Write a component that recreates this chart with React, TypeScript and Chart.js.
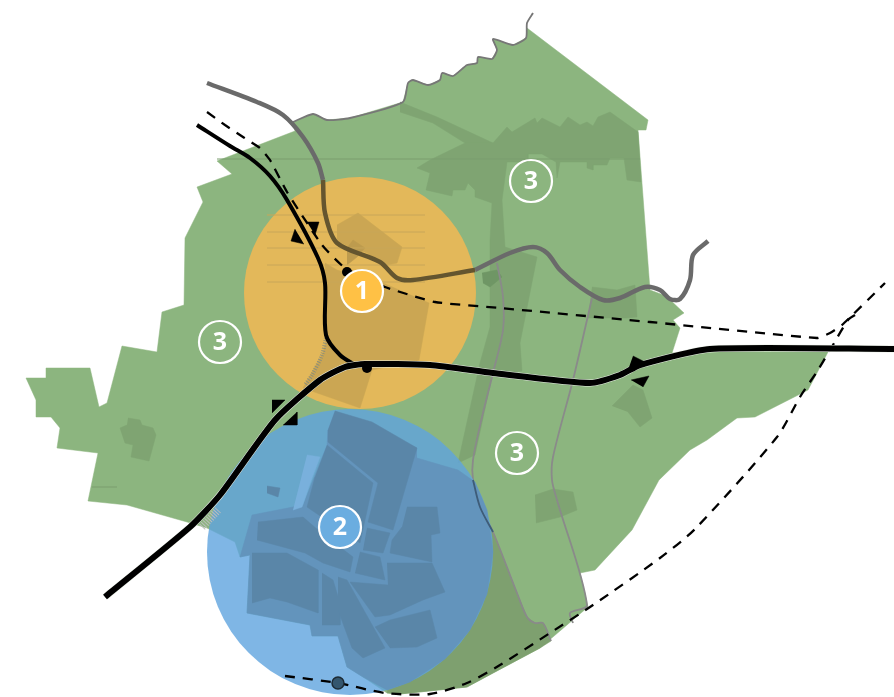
import React, { useEffect, useRef } from "react";
import { Chart, registerables } from "chart.js";

Chart.register(...registerables);

type P = [number, number];

const GREEN = "#8cb57f";
const GREEN_DARK = "#7fa472";
const ORANGE = "#e3b85a";
const ORANGE_DARK = "#cba653";
const BLUE_ALPHA = "rgba(95,164,223,0.8)";
const BLOCK = "#5a86a8";

const landOutline: P[] = [[527,28],[648,120],[646,130],[638,130],[650,290],[666,296],[684,313],[673,320],[680,328],[672,353],[708,350],[828,352],[808,390],[755,417],[737,418],[707,440],[690,450],[659,480],[632,530],[595,570],[580,573],[588,607],[540,648],[493,673],[467,687],[400,694],[387,693],[363,677],[347,667],[338,636],[312,636],[310,625],[247,613],[250,555],[240,557],[235,542],[207,528],[187,522],[127,505],[88,501],[98,453],[57,448],[60,428],[51,417],[36,417],[36,400],[26,378],[46,378],[46,368],[90,368],[99,407],[107,403],[122,346],[157,352],[162,312],[184,305],[185,238],[203,202],[197,187],[232,174],[217,161],[295,131],[293,122],[313,114],[327,120],[350,118],[403,102],[408,83],[413,80],[428,85],[440,80],[442,73],[453,76],[467,65],[477,63],[478,57],[492,59],[497,50],[493,39],[513,45],[526,38]];
const northBelt: P[] = [[493,143],[507,127],[512,132],[535,118],[537,123],[542,118],[560,127],[568,117],[580,125],[587,122],[593,126],[598,117],[610,112],[638,132],[641,182],[627,180],[624,158],[610,158],[607,165],[593,165],[593,170],[587,168],[587,162],[560,162],[557,178],[556,162],[542,154],[528,154],[528,162],[507,162],[502,200],[505,247],[537,257],[520,343],[522,371],[492,377],[475,455],[458,463],[480,363],[490,327],[490,285],[490,240],[492,203],[475,197],[475,190],[468,183],[465,190],[453,190],[452,196],[426,190],[430,173],[417,168],[430,160],[465,143]];
const northStrip: P[] = [[400,102],[437,117],[493,143],[465,143],[433,123],[400,112]];
const eastPatch: P[] = [[592,287],[617,290],[635,285],[637,317],[627,318],[588,318]];
const starPatch: P[] = [[482,273],[497,270],[502,277],[490,287],[483,283]];
const westPatch: P[] = [[128,418],[140,420],[142,425],[153,428],[156,435],[149,461],[131,457],[133,445],[125,443],[120,428],[127,425]];
const eastPond: P[] = [[612,406],[633,385],[643,390],[652,418],[640,427],[628,412]];
const southPatch: P[] = [[535,495],[553,489],[573,492],[577,510],[560,517],[536,523]];
const southDark: P[] = [[480,507],[493,532],[517,593],[527,617],[535,623],[543,623],[551,641],[540,648],[493,673],[467,687],[400,694],[387,693],[400,640],[440,560]];

const cityHalo: P[] = [[417,458],[458,470],[475,482],[487,510],[493,552],[487,594],[470,630],[445,659],[410,682],[387,690],[363,677],[347,667],[338,636],[312,636],[310,625],[247,613],[250,555],[240,557],[252,515],[303,505],[327,445],[328,430],[335,411],[417,448]];
const parkLight: P[] = [[307,455],[320,457],[312,478],[302,507],[293,510]];
const blockA: P[] = [[335,411],[372,422],[417,448],[393,530],[368,522],[378,483],[328,442],[328,430]];
const blockB: P[] = [[327,445],[373,483],[365,520],[360,543],[307,507],[315,477]];
const blockC: P[] = [[258,522],[303,517],[318,530],[353,557],[350,572],[323,563],[305,553],[257,540]];
const blockD: P[] = [[252,553],[287,553],[318,570],[318,613],[287,602],[270,598],[252,603]];
const blockE: P[] = [[322,573],[333,580],[340,603],[340,625],[322,625]];
const blockF: P[] = [[338,577],[347,580],[385,648],[363,658],[352,648],[338,610]];
const blockG: P[] = [[360,552],[380,557],[385,580],[355,573]];
const blockH: P[] = [[367,528],[390,533],[383,553],[363,550]];
const blockI: P[] = [[407,507],[437,507],[440,533],[431,535],[432,562],[390,553],[392,540],[402,527]];
const blockJ: P[] = [[387,563],[432,563],[445,592],[423,600],[390,615],[375,617],[350,582],[388,585]];
const blockK: P[] = [[375,627],[390,620],[430,610],[437,638],[417,647],[390,648]];
const blockSmall: P[] = [[267,486],[280,488],[278,497],[267,493]];

const campusMain: P[] = [[325,263],[337,270],[383,283],[429,303],[419,360],[372,370],[360,408],[303,388],[323,353],[327,337]];
const campusTop: P[] = [[337,225],[358,213],[402,247],[397,263],[387,265],[367,253],[337,242]];
const campusInner: P[] = [[347,248],[353,240],[365,248],[357,257],[347,265]];
const fieldLines: number[] = [215,232,248,265,282];

const riverNorth: P[] = [[533,13],[527,23],[526,38],[513,45],[493,39],[497,50],[492,59],[478,57],[477,63],[467,65],[453,76],[442,73],[440,80],[428,85],[413,80],[408,83],[403,102],[350,118],[327,120],[313,114],[293,122]];
const canalWest: P[] = [[207,83],[257,102],[283,115],[303,137],[318,163],[323,180]];
const canalInCircle: P[] = [[323,180],[325,213],[337,243],[380,262],[397,278],[413,280],[475,270]];
const canalEast: P[] = [[475,270],[510,253],[533,247],[547,253],[560,270],[580,287],[603,300],[620,298],[645,287],[660,290],[670,299],[680,299],[690,280],[693,255],[708,241]];
const brookA: P[] = [[497,263],[503,297],[503,330],[493,373],[482,417],[473,460],[473,480],[480,507],[493,532],[517,593],[527,617],[535,623],[543,623],[551,641]];
const brookACity: P[] = [[473,480],[480,507],[493,532]];
const brookB: P[] = [[592,298],[587,320],[573,380],[553,457],[552,480],[557,500],[587,605],[570,613],[573,623]];

const motorway: P[] = [[105,597],[190,527],[220,495],[275,420],[320,380],[345,367],[365,364],[430,365],[493,373],[590,383],[620,375],[640,365],[710,349],[894,349]];
const ringRoad: P[] = [[197,125],[230,146],[250,158],[270,176],[287,200],[318,258],[325,283],[326,335],[340,355],[357,366]];
const railNorth: P[] = [[207,112],[225,125],[243,137],[260,148],[270,160],[287,192],[322,245],[345,268],[385,287],[435,302],[500,308],[650,322],[817,338],[830,333],[842,325],[885,283]];
const railSouth: P[] = [[285,676],[338,683],[385,693],[430,694],[467,683],[500,665],[550,633],[593,605],[660,558],[695,529],[777,437],[800,397],[818,370],[830,350],[848,320],[855,315]];
const hatchA: P[] = [[326,338],[322,355],[312,375],[305,385]];
const hatchB: P[] = [[202,527],[218,510]];
const westTick: P[] = [[92,487],[117,487]];
const northLine: P[] = [[217,159],[640,159]];

const junctionA: P[] = [[295,229],[291,241],[304,244]];
const junctionB: P[] = [[307,222],[319,222],[315,235]];
const junctionC: P[] = [[272,400],[285,400],[272,413]];
const junctionD: P[] = [[297,412],[297,425],[283,425]];
const junctionE: P[] = [[633,356],[645,362],[628,370]];
const junctionF: P[] = [[631,380],[649,376],[643,387]];

const circleOrange: P = [360,293];
const circleBlue: P = [350,552];
const stationDots: P[] = [[367,368],[347,272]];
const stationStop: P = [338,683];
const labelValues: string[] = ["1","2","3","3","3"];
const labelPoints: P[] = [[362,291],[340,527],[531,181],[220,342],[517,453]];
const labelFills: string[] = ["#ffc145","#6badE0","transparent","transparent","transparent"];

const pts = (a: P[]) => a.map(([x, y]) => ({ x, y }));
const poly = (a: P[], color: string) => ({
  data: pts(a), showLine: true, fill: "shape", backgroundColor: color, borderColor: color,
  borderWidth: 0.5, pointRadius: 0, tension: 0,
});
const line = (a: P[], color: string, width: number, dash: number[] = [], tension = 0.3) => ({
  data: pts(a), showLine: true, fill: false, borderColor: color, borderWidth: width,
  borderDash: dash, pointRadius: 0, tension, borderCapStyle: "butt", borderJoinStyle: "round",
});
const dot = (p: P[], radius: number, fillColor: string, stroke = "transparent", sw = 0) => ({
  data: pts(p), showLine: false, pointRadius: radius, pointHoverRadius: radius,
  backgroundColor: fillColor, borderColor: stroke, borderWidth: sw, pointBorderWidth: sw,
  pointBackgroundColor: fillColor, pointBorderColor: stroke,
});

const labelPlugin = {
  id: "circleLabels",
  afterDatasetsDraw(chart: any) {
    const { ctx, scales } = chart;
    ctx.save();
    ctx.fillStyle = "#ffffff";
    ctx.font = "700 25px 'Open Sans', Inter, sans-serif";
    ctx.textAlign = "center";
    ctx.textBaseline = "middle";
    labelValues.forEach((t, i) => {
      const [x, y] = labelPoints[i];
      ctx.fillText(t, scales.x.getPixelForValue(x), scales.y.getPixelForValue(y) + 1);
    });
    ctx.restore();
  },
};

export default function App() {
  const ref = useRef<HTMLCanvasElement>(null);
  useEffect(() => {
    document.body.style.margin = "0";
    document.body.style.background = "#ffffff";
    // written bottom layer first, reversed below because Chart.js paints the first dataset last
    const layers: any[] = [
      poly(landOutline, GREEN),
      poly(northStrip, GREEN_DARK),
      poly(northBelt, GREEN_DARK),
      poly(eastPatch, GREEN_DARK),
      poly(starPatch, "#6f9665"),
      poly(westPatch, GREEN_DARK),
      poly(eastPond, GREEN_DARK),
      poly(southPatch, GREEN_DARK),
      poly(southDark, "#7ea06f"),
      line(northLine, "#7b9d6e", 1, [], 0),
      line(westTick, "#7b9d6e", 1, [], 0),
      line(riverNorth, "#777777", 1.8, [], 0.2),
      line(canalWest, "#6a6a6a", 4.5),
      line(canalEast, "#6a6a6a", 4.5),
      line(brookA, "#8a8a8a", 1.8),
      line(brookB, "#8a8a8a", 1.8),
      dot([circleOrange], 116, ORANGE),
      poly(campusMain, ORANGE_DARK),
      poly(campusTop, ORANGE_DARK),
      poly(campusInner, "#bd9b4e"),
      ...fieldLines.map((y) => line([[267,y],[425,y]], "#c8a658", 1, [], 0)),
      line(canalInCircle, "#64552f", 4.5),
      dot([circleBlue], 143, BLUE_ALPHA),
      poly(cityHalo, "#6394bc"),
      poly(parkLight, "#79b0dc"),
      ...[blockA,blockB,blockC,blockD,blockE,blockF,blockG,blockH,blockI,blockJ,blockK,blockSmall].map((b) => poly(b, BLOCK)),
      line(brookACity, "#3e5c78", 1.8),
      line(hatchA, "#8f8f78", 4, [1,1.5]),
      line(hatchB, "#bdbdbd", 8, [1,1.5], 0),
      line(railNorth, "#000000", 2.3, [10,8], 0.15),
      line(railSouth, "#000000", 2.3, [10,8], 0.25),
      line(ringRoad, "#000000", 4),
      line(motorway, "#e9efe6", 7, [], 0.2),
      line(motorway, "#000000", 6, [], 0.2),
      ...[junctionA,junctionB,junctionC,junctionD,junctionE,junctionF].map((j) => poly(j, "#000000")),
      dot(stationDots, 5, "#000000"),
      dot([stationStop], 6, "#34566e", "#1d2b35", 1.5),
      ...labelPoints.map((p, i) => dot([p], 21, labelFills[i], "#ffffff", 2.2)),
    ];
    const chart = new Chart(ref.current!, {
      type: "scatter",
      data: { datasets: layers.reverse() },
      options: {
        animation: false,
        responsive: false,
        devicePixelRatio: 1,
        events: [],
        layout: { padding: 0, autoPadding: false },
        scales: {
          x: { type: "linear", min: 0, max: 894, display: false },
          y: { type: "linear", min: 0, max: 697, reverse: true, display: false },
        },
        plugins: { legend: { display: false }, tooltip: { enabled: false }, title: { display: false } },
      },
      plugins: [labelPlugin],
    } as any);
    return () => chart.destroy();
  }, []);
  return <canvas ref={ref} width={894} height={697} style={{ position: "fixed", left: 0, top: 0, display: "block" }} />;
}
